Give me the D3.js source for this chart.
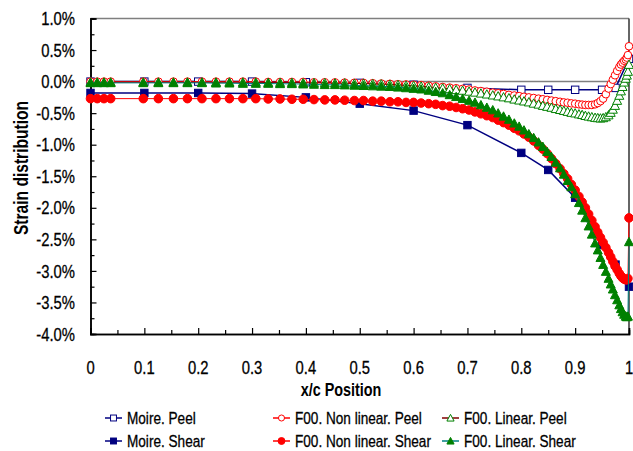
<!DOCTYPE html>
<html><head><meta charset="utf-8">
<script src="https://cdn.jsdelivr.net/npm/d3@7"></script>
<style>
html,body{margin:0;padding:0;background:#fff;}
text{font-family:"Liberation Sans",Arial,sans-serif;}
</style></head>
<body>
<svg id="chart" width="633" height="451"></svg>
<script>
// ---- data ----
const xTicks = [0,0.1,0.2,0.3,0.4,0.5,0.6,0.7,0.8,0.9,1];
const xTickLabels = ["0","0.1","0.2","0.3","0.4","0.5","0.6","0.7","0.8","0.9","1"];
const yTicks = [1.0,0.5,0.0,-0.5,-1.0,-1.5,-2.0,-2.5,-3.0,-3.5,-4.0];
const yTickLabels = ["1.0%","0.5%","0.0%","-0.5%","-1.0%","-1.5%","-2.0%","-2.5%","-3.0%","-3.5%","-4.0%"];

const xMoire = [0,0.1,0.2,0.3,0.4,0.5,0.6,0.7,0.8,0.85,0.9,0.95,0.975,1.0];
const moirePeel  = [0,0,0,0,-0.01,-0.02,-0.05,-0.10,-0.13,-0.13,-0.13,-0.13,-0.10,0.36];
const moireShear = [-0.18,-0.18,-0.18,-0.19,-0.25,-0.35,-0.46,-0.69,-1.13,-1.40,-1.84,-2.59,-2.90,-3.25];

const xF00 = [0,0.0125,0.025,0.0375,0.098,0.126,0.154,0.18,0.207,0.233,0.258,0.283,0.307,0.33,0.352,0.374,0.395,0.415,0.435,0.454,0.472,0.49,0.507,0.524,0.54,0.556,0.571,0.586,0.6,0.614,0.628,0.641,0.654,0.667,0.679,0.691,0.703,0.714,0.725,0.736,0.747,0.757,0.767,0.777,0.787,0.796,0.805,0.814,0.823,0.832,0.84,0.848,0.856,0.864,0.872,0.879,0.886,0.893,0.9,0.907,0.913,0.919,0.925,0.931,0.937,0.942,0.947,0.952,0.957,0.962,0.966,0.97,0.974,0.978,0.982,0.985,0.988,0.991,0.994,0.996,0.998,1.0];

const nonLinearPeel = [0,0,0,0,0,0,0,0,0,0,0,0,0,-0.005,-0.005,-0.005,-0.005,
 -0.01,-0.01,-0.012,-0.015,-0.018,-0.02,-0.025,-0.03,-0.035,-0.04,-0.045,-0.05,-0.055,
 -0.065,-0.075,-0.085,-0.095,-0.105,-0.115,-0.125,-0.14,-0.15,-0.16,-0.175,-0.185,-0.195,
 -0.21,-0.22,-0.23,-0.24,-0.25,-0.26,-0.27,-0.28,-0.29,-0.30,-0.31,-0.32,-0.33,-0.335,
 -0.345,-0.35,-0.36,-0.365,-0.37,-0.37,-0.37,-0.36,-0.34,-0.31,-0.27,-0.20,-0.11,-0.04,
 0.03,0.10,0.17,0.23,0.27,0.30,0.33,0.35,0.38,0.42,0.56];

const nonLinearShear = [-0.27,-0.27,-0.27,-0.27,-0.27,-0.27,-0.27,-0.27,-0.27,-0.27,-0.27,-0.27,-0.27,
 -0.275,-0.275,-0.28,-0.28,-0.285,-0.29,-0.29,-0.295,-0.30,-0.30,-0.31,-0.31,-0.32,-0.32,
 -0.33,-0.33,-0.34,-0.35,-0.36,-0.38,-0.39,-0.41,-0.43,-0.45,-0.48,-0.51,-0.54,-0.57,-0.61,
 -0.65,-0.69,-0.74,-0.78,-0.83,-0.88,-0.94,-1.01,-1.07,-1.14,-1.22,-1.30,-1.38,-1.46,-1.54,
 -1.63,-1.72,-1.82,-1.91,-2.00,-2.10,-2.20,-2.30,-2.39,-2.47,-2.55,-2.63,-2.71,-2.78,-2.85,
 -2.92,-2.98,-3.04,-3.08,-3.11,-3.13,-3.14,-3.14,-3.12,-2.16];

const linearPeel = [-0.01,-0.01,-0.01,-0.01,-0.01,-0.01,-0.01,-0.01,-0.01,-0.01,-0.01,-0.01,-0.01,
 -0.015,-0.015,-0.015,-0.02,-0.02,-0.02,-0.025,-0.025,-0.03,-0.03,-0.035,-0.04,-0.045,-0.05,
 -0.06,-0.065,-0.075,-0.085,-0.095,-0.105,-0.115,-0.13,-0.14,-0.155,-0.17,-0.185,-0.20,-0.215,
 -0.23,-0.245,-0.26,-0.28,-0.295,-0.31,-0.325,-0.345,-0.36,-0.38,-0.395,-0.41,-0.43,-0.445,
 -0.46,-0.475,-0.49,-0.50,-0.515,-0.525,-0.54,-0.55,-0.56,-0.57,-0.575,-0.58,-0.575,-0.56,
 -0.53,-0.49,-0.44,-0.38,-0.30,-0.22,-0.15,-0.08,-0.01,0.05,0.10,0.16,0.27];

const linearShear = [-0.02,-0.02,-0.02,-0.02,-0.02,-0.02,-0.02,-0.02,-0.02,-0.025,-0.025,-0.03,-0.03,
 -0.03,-0.035,-0.035,-0.04,-0.045,-0.05,-0.05,-0.055,-0.06,-0.065,-0.07,-0.075,-0.08,-0.09,
 -0.10,-0.11,-0.12,-0.14,-0.16,-0.18,-0.21,-0.24,-0.27,-0.30,-0.33,-0.37,-0.41,-0.45,-0.50,
 -0.55,-0.60,-0.66,-0.71,-0.77,-0.83,-0.89,-0.96,-1.03,-1.11,-1.19,-1.28,-1.37,-1.47,-1.57,
 -1.67,-1.78,-1.92,-2.04,-2.16,-2.29,-2.42,-2.56,-2.67,-2.79,-2.90,-3.01,-3.12,-3.21,-3.29,
 -3.38,-3.46,-3.54,-3.60,-3.65,-3.69,-3.72,-3.73,-3.72,-2.54];

const seriesNames = ["Moire. Peel","F00. Non linear. Peel","F00. Linear. Peel","Moire. Shear","F00. Non linear. Shear","F00. Linear. Shear"];

// ---- layout ----
const svg = d3.select("#chart");
const L = 90.5, R = 629, T = 18.5, B = 334;
const SX = 0.8; // horizontal condensing of text
const x = d3.scaleLinear().domain([0,1]).range([L,R]);
const y = d3.scaleLinear().domain([-4,1]).range([B,T]);

function label(px, py, str, size, anchor, opts){
  opts = opts||{};
  const rot = opts.rotate ? ` rotate(${opts.rotate})` : "";
  const t = svg.append("text")
    .attr("transform",`translate(${px},${py})${rot} scale(${SX},1)`)
    .attr("dy","0.36em").attr("text-anchor",anchor).attr("font-size",size)
    .attr("font-weight",opts.bold?"bold":"normal").attr("fill","#000").text(str);
  if(!opts.bold) t.attr("stroke","#000").attr("stroke-width",0.3);
  return t;
}

// frame (top + right) and zero line
svg.append("line").attr("x1",L).attr("x2",R).attr("y1",T).attr("y2",T).attr("stroke","#7f7f7f").attr("stroke-width",1.5);
svg.append("line").attr("x1",R).attr("x2",R).attr("y1",T).attr("y2",B).attr("stroke","#333").attr("stroke-width",1.5);
svg.append("line").attr("x1",L).attr("x2",R).attr("y1",y(0)).attr("y2",y(0)).attr("stroke","#7f7f7f").attr("stroke-width",1.5);

// y axis
const yAxis = d3.axisRight(y).tickValues(yTicks).tickSize(6).tickFormat("");
const gy = svg.append("g").attr("transform",`translate(${L},0)`).call(yAxis);
const yMinor = d3.axisRight(y).tickValues(d3.range(-3.75,1,0.5)).tickSize(4).tickFormat("");
const gy2 = svg.append("g").attr("transform",`translate(${L},0)`).call(yMinor);
[gy,gy2].forEach(g=>{g.selectAll("path").attr("stroke","#000").attr("stroke-width",1.5);g.selectAll("line").attr("stroke","#000").attr("stroke-width",1.2);});
yTicks.forEach((d,i)=>label(75, y(d), yTickLabels[i], 18.5, "end"));

// x axis
const xAxis = d3.axisTop(x).tickValues(xTicks).tickSize(6).tickFormat("");
const gx = svg.append("g").attr("transform",`translate(0,${B})`).call(xAxis);
const xMinor = d3.axisTop(x).tickValues(d3.range(0.05,1,0.1)).tickSize(4).tickFormat("");
const gx2 = svg.append("g").attr("transform",`translate(0,${B})`).call(xMinor);
[gx,gx2].forEach(g=>{g.selectAll("path").attr("stroke","#000").attr("stroke-width",1.5);g.selectAll("line").attr("stroke","#000").attr("stroke-width",1.2);});
xTicks.forEach((d,i)=>label(x(d), 367, xTickLabels[i], 18.5, "middle"));

// titles
label(341, 390, "x/c Position", 18, "middle", {bold:true});
label(21, 168, "Strain distribution", 19.5, "middle", {bold:true, rotate:-90});

// marker helpers
const NAVY="#000080", RED="#ff0000", GREEN="#008000";
function marker(g, type, cx, cy, s){
  const sz = s||1;
  if(type==="sqOpen"||type==="sqFill"){
    g.append("rect").attr("x",cx-3.7*sz).attr("y",cy-3.7*sz).attr("width",7.4*sz).attr("height",7.4*sz)
     .attr("fill",type==="sqOpen"?"#fff":NAVY).attr("stroke",NAVY).attr("stroke-width",1);
  } else if(type==="cirOpen"||type==="cirFill"){
    g.append("circle").attr("cx",cx).attr("cy",cy).attr("r",(type==="cirOpen"?3.8:4.3)*sz)
     .attr("fill",type==="cirOpen"?"#fff":RED).attr("stroke",RED).attr("stroke-width",1);
  } else {
    const h=4.5*sz;
    g.append("path").attr("d",`M${cx},${cy-h}L${cx+h},${cy+h*0.85}L${cx-h},${cy+h*0.85}Z`)
     .attr("fill",type==="triOpen"?"#fff":GREEN).attr("stroke",GREEN).attr("stroke-width",1);
  }
}

const series = [
  {name:seriesNames[0], xs:xMoire, ys:moirePeel, line:NAVY, lw:1.5, m:"sqOpen"},
  {name:seriesNames[1], xs:xF00, ys:nonLinearPeel, line:RED, lw:1, m:"cirOpen"},
  {name:seriesNames[2], xs:xF00, ys:linearPeel, line:"#800000", lw:1, m:"triOpen"},
  {name:seriesNames[3], xs:xMoire, ys:moireShear, line:NAVY, lw:1.5, m:"sqFill"},
  {name:seriesNames[4], xs:xF00, ys:nonLinearShear, line:RED, lw:1, m:"cirFill"},
  {name:seriesNames[5], xs:xF00, ys:linearShear, line:"#008080", lw:1, m:"triFill"}
];

const lineGen = d3.line().x(d=>x(d[0])).y(d=>y(d[1]));
series.forEach(s=>{
  const pts = s.xs.map((v,i)=>[v,s.ys[i]]);
  const g = svg.append("g");
  g.append("path").attr("d",lineGen(pts)).attr("fill","none").attr("stroke",s.line).attr("stroke-width",s.lw);
  pts.forEach(p=>marker(g,s.m,x(p[0]),y(p[1])));
});

// legend
const legCols=[105,273,442], legRows=[418,441];
series.forEach((s,i)=>{
  const col=i%3, row=Math.floor(i/3);
  const lx=legCols[col], ly=legRows[row];
  const g=svg.append("g");
  g.append("line").attr("x1",lx).attr("x2",lx+17).attr("y1",ly).attr("y2",ly).attr("stroke",s.line).attr("stroke-width",1.5);
  marker(g,s.m,lx+8.5,ly,0.8);
  label(lx+22, ly, s.name, 17, "start");
});
</script>
</body></html>
